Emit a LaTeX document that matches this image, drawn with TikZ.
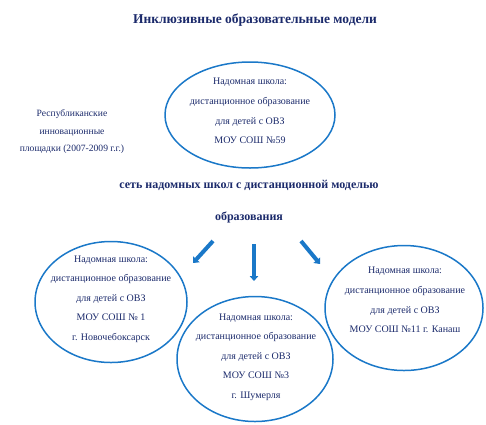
\documentclass[tikz,border=0pt]{standalone}
\usepackage{fontspec}
\setmainfont{Liberation Serif}
\usetikzlibrary{shapes.geometric,arrows.meta}
\definecolor{inkblue}{HTML}{1B2A6B}
\definecolor{ringblue}{HTML}{1A78C8}
\begin{document}
\begin{tikzpicture}[x=1pt,y=-1pt,
  ring/.style={ellipse,draw=ringblue,line width=1.5pt,inner sep=0pt},
  label/.style={text=inkblue,align=center,inner sep=0pt},
  schooltext/.style={label,font=\fontsize{10}{19.6}\selectfont},
  pointer/.style={draw=ringblue,line width=4pt,-{Triangle[width=8.5pt,length=5pt]}}]
\useasboundingbox (0,0) rectangle (486,424);
\node[label,font=\bfseries\fontsize{13.5}{16}\selectfont] (title) at (255,20) {Инклюзивные образовательные модели};
\node[label,font=\fontsize{9.6}{17.5}\selectfont] (rip) at (72,132) {Республиканские\\инновационные\\площадки (2007-2009 г.г.)};
\node[ring,minimum width=170pt,minimum height=106pt] (top) at (250,115) {};
\node[schooltext] (toptext) at (250,111) {Надомная школа:\\дистанционное образование\\для детей с ОВЗ\\МОУ СОШ №59};
\node[label,font=\bfseries\fontsize{12}{32}\selectfont] (net) at (249,202) {сеть надомных школ с дистанционной моделью\\образования};
\node[ring,minimum width=152pt,minimum height=121pt] (left) at (111,302) {};
\node[schooltext] (lefttext) at (111,299) {Надомная школа:\\дистанционное образование\\для детей с ОВЗ\\МОУ СОШ № 1\\г. Новочебоксарск};
\node[ring,minimum width=156pt,minimum height=125pt] (mid) at (255,359) {};
\node[schooltext] (midtext) at (256,357) {Надомная школа:\\дистанционное образование\\для детей с ОВЗ\\МОУ СОШ №3\\г. Шумерля};
\node[ring,minimum width=158pt,minimum height=125pt] (right) at (404,308) {};
\node[schooltext] (righttext) at (405,300) {Надомная школа:\\дистанционное образование\\для детей с ОВЗ\\МОУ СОШ №11 г. Канаш};
\coordinate (la) at (213,241);
\coordinate (lb) at (193,263);
\coordinate (ma) at (254,244);
\coordinate (mb) at (254,281);
\coordinate (ra) at (301,241);
\coordinate (rb) at (320,264);
\draw[pointer] (la) -- (lb);
\draw[pointer] (ma) -- (mb);
\draw[pointer] (ra) -- (rb);
\end{tikzpicture}
\end{document}
